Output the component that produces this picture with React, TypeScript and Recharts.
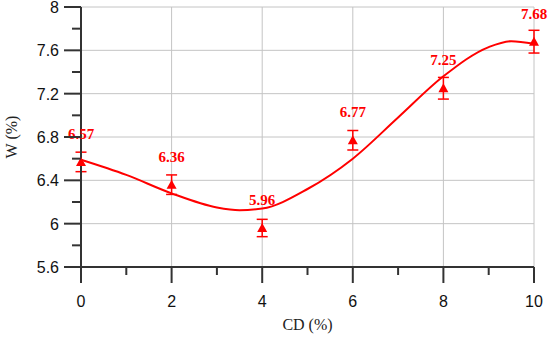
import { ComposedChart, Line, Scatter, XAxis, YAxis, CartesianGrid, ErrorBar, Label } from 'recharts'

const cdValues = [0, 2, 4, 6, 8, 10]
const wValues = [6.57, 6.36, 5.96, 6.77, 7.25, 7.68]
const wErrors = [0.09, 0.09, 0.08, 0.09, 0.1, 0.105]

// fitted curve
const fitX = [0, 1, 2, 3, 3.5, 4, 5, 6, 7, 8, 9, 9.5, 10]
const fitW = [6.59, 6.45, 6.28, 6.15, 6.125, 6.14, 6.32, 6.6, 6.98, 7.36, 7.63, 7.685, 7.66]

const xTicks = [0, 1, 2, 3, 4, 5, 6, 7, 8, 9, 10]
const xMajor = [0, 2, 4, 6, 8, 10]
const yTicks = [5.6, 5.8, 6, 6.2, 6.4, 6.6, 6.8, 7, 7.2, 7.4, 7.6, 7.8, 8]
const yMajor = [5.6, 6, 6.4, 6.8, 7.2, 7.6, 8]

const points = cdValues.map((x, i) => ({ x, y: wValues[i], err: wErrors[i] }))
const fit = fitX.map((x, i) => ({ x, w: fitW[i] }))

const RED = '#ff0000'
const AXIS = '#333333'
const SANS = '"Liberation Sans", Arial, sans-serif'
const SERIF = '"Liberation Serif", "Times New Roman", serif'

const isMajorY = (v: number) => Math.round(v * 10) % 4 === 0

function XTick(props: any) {
  const { x, y, payload } = props
  const major = payload.value % 2 === 0
  return (
    <g>
      <line x1={x} x2={x} y1={y} y2={y + (major ? 16 : 8)} stroke={AXIS} strokeWidth={2} />
      {major && (
        <text x={x} y={y + 40} textAnchor="middle" fontFamily={SANS} fontSize={16} fill="#111">
          {payload.value}
        </text>
      )}
    </g>
  )
}

function YTick(props: any) {
  const { x, y, payload } = props
  const major = isMajorY(payload.value)
  return (
    <g>
      <line x1={x - (major ? 17 : 9)} x2={x} y1={y} y2={y} stroke={AXIS} strokeWidth={2} />
      {major && (
        <text x={x - 22} y={y + 6} textAnchor="end" fontFamily={SANS} fontSize={16} fill="#111">
          {payload.value}
        </text>
      )}
    </g>
  )
}

function Marker(props: any) {
  const { cx, cy, payload } = props
  if (cx == null || cy == null) return null
  return (
    <g>
      <polygon points={`${cx},${cy - 5} ${cx - 5},${cy + 4} ${cx + 5},${cy + 4}`} fill={RED} />
      <text
        x={cx}
        y={cy - 23}
        textAnchor="middle"
        fontFamily={SERIF}
        fontWeight="bold"
        fontSize={15}
        fill={RED}
      >
        {payload.y.toFixed(2)}
      </text>
    </g>
  )
}

export default function App() {
  return (
    <div style={{ position: 'absolute', left: 0, top: 0, width: 550, height: 337, background: '#fff' }}>
      <ComposedChart width={550} height={337} margin={{ top: 7, right: 16, bottom: 0, left: 0 }}>
        <CartesianGrid
          stroke="#c4c4c4"
          strokeWidth={1}
          verticalValues={xMajor}
          horizontalValues={yMajor}
        />
        <XAxis
          type="number"
          dataKey="x"
          domain={[0, 10]}
          ticks={xTicks}
          interval={0}
          height={70}
          tickSize={0}
          tickMargin={0}
          tickLine={false}
          axisLine={{ stroke: AXIS, strokeWidth: 2 }}
          tick={<XTick />}
          allowDuplicatedCategory={false}
        >
          <Label
            value="CD (%)"
            position="insideBottom"
            offset={7}
            style={{ fontFamily: SERIF, fontSize: 16, fill: '#222' }}
          />
        </XAxis>
        <YAxis
          type="number"
          domain={[5.6, 8]}
          ticks={yTicks}
          interval={0}
          width={81}
          tickSize={0}
          tickMargin={0}
          tickLine={false}
          axisLine={{ stroke: AXIS, strokeWidth: 2 }}
          tick={<YTick />}
          allowDataOverflow
        >
          <Label
            content={() => (
              <text
                x={11}
                y={137}
                transform="rotate(-90 11 137)"
                textAnchor="middle"
                dominantBaseline="central"
                fontFamily={SERIF}
                fontSize={16}
                fill="#222"
              >
                W (%)
              </text>
            )}
          />
        </YAxis>
        <Line
          data={fit}
          dataKey="w"
          type="monotoneX"
          stroke={RED}
          strokeWidth={2}
          dot={false}
          activeDot={false}
          isAnimationActive={false}
        />
        <Scatter data={points} dataKey="y" shape={<Marker />} isAnimationActive={false}>
          <ErrorBar dataKey="err" direction="y" width={5.5} stroke={RED} strokeWidth={1.5} />
        </Scatter>
      </ComposedChart>
    </div>
  )
}
